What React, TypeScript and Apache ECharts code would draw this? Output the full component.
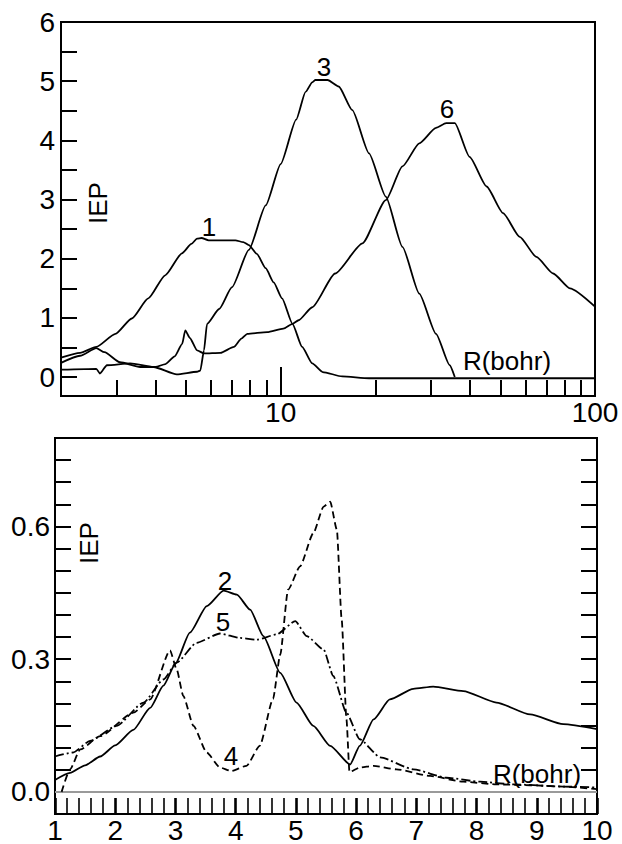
import React, { useEffect, useRef } from "react";
import * as echarts from "echarts";

// ---------- Top panel (log R axis) ----------
const c1X = [2.0, 2.3, 2.59, 2.98, 3.36, 3.79, 4.29, 4.85, 5.2, 5.42, 5.6, 5.9, 6.5, 7.18, 7.6, 7.92, 8.4, 8.96, 9.5, 10.1, 10.9, 11.7, 12.6, 13.6, 15.7, 19.1, 30, 50, 100];
const c1Y = [0.33, 0.41, 0.51, 0.73, 0.99, 1.33, 1.72, 2.09, 2.25, 2.34, 2.35, 2.31, 2.31, 2.31, 2.28, 2.23, 2.08, 1.84, 1.6, 1.33, 0.9, 0.51, 0.23, 0.085, 0.01, -0.02, -0.02, -0.02, -0.02];

const c3X = [2.0, 2.59, 2.66, 2.8, 3.32, 3.94, 4.67, 5.42, 5.55, 5.7, 5.83, 6.37, 7.0, 7.92, 8.96, 10.0, 11.2, 12.0, 12.6, 12.9, 14.1, 15.3, 16.9, 19.1, 21.6, 24.4, 27.6, 31.2, 34.5, 35.8];
const c3Y = [0.125, 0.14, 0.06, 0.2, 0.23, 0.17, 0.045, 0.09, 0.11, 0.45, 0.9, 1.15, 1.52, 2.15, 2.9, 3.6, 4.35, 4.82, 4.98, 5.02, 5.02, 4.91, 4.51, 3.78, 3.05, 2.2, 1.41, 0.73, 0.2, 0.0];

const c6X = [2.0, 2.3, 2.59, 2.75, 3.08, 3.57, 4.0, 4.3, 4.6, 4.86, 4.97, 5.14, 5.42, 5.7, 6.43, 7.1, 7.5, 7.83, 9.06, 10.2, 10.9, 11.4, 12.6, 14.9, 18.2, 21.6, 24.4, 27.6, 31.2, 33.6, 35.8, 39.9, 45.2, 51.0, 57.6, 65.1, 73.6, 83.2, 100];
const c6Y = [0.24, 0.36, 0.49, 0.42, 0.25, 0.17, 0.17, 0.22, 0.35, 0.56, 0.79, 0.66, 0.45, 0.4, 0.41, 0.51, 0.65, 0.73, 0.76, 0.82, 0.9, 0.96, 1.18, 1.75, 2.26, 2.99, 3.56, 3.95, 4.21, 4.29, 4.29, 3.72, 3.22, 2.77, 2.37, 2.03, 1.75, 1.5, 1.19];

const topYTicks = [0, 0.5, 1, 1.5, 2, 2.5, 3, 3.5, 4, 4.5, 5, 5.5, 6];
const topYLabels = [0, 1, 2, 3, 4, 5, 6];
const topXMinorTicks = [3, 4, 5, 6, 7, 8, 9, 20, 30, 40, 50, 60, 70, 80, 90];
const topXMajorTicks = [10];
const topXLabels = [10, 100];

// ---------- Bottom panel (linear R axis) ----------
const c2X = [1.0, 1.25, 1.5, 1.75, 2.0, 2.3, 2.58, 2.8, 3.0, 3.24, 3.52, 3.8, 4.02, 4.24, 4.46, 4.74, 5.01, 5.29, 5.57, 5.9, 6.06, 6.29, 6.56, 6.95, 7.28, 7.78, 8.33, 8.89, 9.44, 10.0];
const c2Y = [0.027, 0.043, 0.06, 0.08, 0.105, 0.14, 0.19, 0.24, 0.29, 0.36, 0.42, 0.455, 0.446, 0.412, 0.352, 0.269, 0.202, 0.149, 0.104, 0.062, 0.104, 0.164, 0.209, 0.233, 0.238, 0.228, 0.202, 0.175, 0.153, 0.142];

const c4X = [1.11, 1.25, 1.42, 1.75, 2.3, 2.58, 2.91, 3.02, 3.13, 3.3, 3.52, 3.74, 3.93, 4.18, 4.4, 4.62, 4.74, 4.87, 5.07, 5.29, 5.46, 5.57, 5.68, 5.76, 5.84, 5.89, 6.06, 6.29, 6.67, 7.23, 7.78, 8.33, 8.89, 9.44, 10.0];
const c4Y = [0.0, 0.051, 0.096, 0.126, 0.179, 0.209, 0.32, 0.277, 0.217, 0.149, 0.089, 0.055, 0.047, 0.059, 0.104, 0.21, 0.31, 0.457, 0.51, 0.585, 0.645, 0.656, 0.593, 0.39, 0.164, 0.045, 0.055, 0.059, 0.051, 0.036, 0.023, 0.017, 0.015, 0.012, 0.006];

const c5X = [1.0, 1.3, 1.58, 2.02, 2.47, 2.8, 3.02, 3.35, 3.74, 4.07, 4.35, 4.68, 4.99, 5.18, 5.46, 5.62, 5.84, 6.06, 6.4, 6.95, 7.5, 8.06, 8.61, 9.44, 10.0];
const c5Y = [0.08, 0.089, 0.115, 0.149, 0.202, 0.254, 0.292, 0.337, 0.358, 0.348, 0.344, 0.356, 0.386, 0.352, 0.322, 0.262, 0.179, 0.119, 0.078, 0.051, 0.032, 0.023, 0.017, 0.012, 0.01];

const botYTicks = [0, 0.05, 0.1, 0.15, 0.2, 0.25, 0.3, 0.35, 0.4, 0.45, 0.5, 0.55, 0.6, 0.65, 0.7, 0.75];
const botYLabels = [0, 0.3, 0.6];

const FONT = "'Liberation Sans', Arial, Helvetica, sans-serif";
const BLACK = "#000";

const zip = (xs: number[], ys: number[]) => xs.map((x, i) => [x, ys[i]]);

const lineSeries = (
  name: string,
  xs: number[],
  ys: number[],
  xi: number,
  yi: number,
  type: any = "solid",
  extra: any = {}
) => ({
  name,
  type: "line",
  xAxisIndex: xi,
  yAxisIndex: yi,
  data: zip(xs, ys),
  showSymbol: false,
  symbol: "none",
  smooth: 0.2,
  smoothMonotone: "x",
  lineStyle: { color: BLACK, width: 1.8, type },
  z: 3,
  ...extra,
});

const tickStyle = { color: BLACK, width: 2 };
const labelStyle = { color: BLACK, fontSize: 28, fontFamily: FONT, lineHeight: 28 };

const text = (t: string, x: number, y: number, size = 26, rotation = 0) => ({
  type: "text",
  x,
  y,
  rotation,
  z: 10,
  style: {
    text: t,
    fill: BLACK,
    fontSize: size,
    fontFamily: FONT,
    align: "center",
    verticalAlign: "middle",
  },
});

export default function App() {
  const ref = useRef<HTMLDivElement>(null);

  useEffect(() => {
    if (!ref.current) return;
    const chart = echarts.init(ref.current, undefined, { renderer: "svg" });
    const option: any = {
      animation: false,
      backgroundColor: "#fff",
      grid: [
        { left: 61, top: 22, width: 534, height: 374, show: true, borderColor: BLACK, borderWidth: 2, backgroundColor: "transparent" },
        { left: 55, top: 438, width: 542, height: 378, show: true, borderColor: BLACK, borderWidth: 2, backgroundColor: "transparent" },
      ],
      xAxis: [
        {
          gridIndex: 0,
          type: "log",
          logBase: 10,
          min: 2,
          max: 100,
          position: "bottom",
          axisLine: { onZero: false, lineStyle: { color: BLACK, width: 2 } },
          axisTick: { inside: true, length: 16, lineStyle: tickStyle, customValues: topXMinorTicks },
          axisLabel: { ...labelStyle, margin: 2, customValues: topXLabels, hideOverlap: false },
          splitLine: { show: false },
          minorTick: { show: false },
          minorSplitLine: { show: false },
        },
        {
          gridIndex: 0,
          type: "log",
          logBase: 10,
          min: 2,
          max: 100,
          position: "bottom",
          offset: 0,
          axisLine: { show: false, onZero: false },
          axisTick: { inside: true, length: 29, lineStyle: tickStyle, customValues: topXMajorTicks },
          axisLabel: { show: false },
          splitLine: { show: false },
        },
        {
          gridIndex: 1,
          type: "value",
          min: 1,
          max: 10,
          interval: 1,
          position: "bottom",
          axisLine: { onZero: false, lineStyle: { color: BLACK, width: 2 } },
          axisTick: { inside: true, length: 16, lineStyle: { color: BLACK, width: 2.6 } },
          minorTick: { show: true, splitNumber: 5, length: 16, lineStyle: { color: BLACK, width: 1.6 } },
          axisLabel: { ...labelStyle, margin: 2 },
          splitLine: { show: false },
        },
      ],
      yAxis: [
        {
          gridIndex: 0,
          type: "value",
          min: -0.32,
          max: 6,
          axisLine: { onZero: false, lineStyle: { color: BLACK, width: 2 } },
          axisTick: { inside: true, length: 16, lineStyle: tickStyle, customValues: topYTicks },
          axisLabel: { ...labelStyle, margin: 6, customValues: topYLabels },
          splitLine: { show: false },
        },
        {
          gridIndex: 1,
          type: "value",
          min: -0.05,
          max: 0.8,
          axisLine: { onZero: false, lineStyle: { color: BLACK, width: 2 } },
          axisTick: { inside: true, length: 16, lineStyle: tickStyle, customValues: botYTicks },
          axisLabel: {
            ...labelStyle,
            margin: 5,
            customValues: botYLabels,
            formatter: (v: number) => v.toFixed(1),
          },
          splitLine: { show: false },
        },
        {
          gridIndex: 1,
          type: "value",
          position: "right",
          min: -0.05,
          max: 0.8,
          axisLine: { onZero: false, lineStyle: { color: BLACK, width: 2 } },
          axisTick: { inside: true, length: 16, lineStyle: tickStyle, customValues: botYTicks },
          axisLabel: { show: false },
          splitLine: { show: false },
        },
      ],
      series: [
        lineSeries("1", c1X, c1Y, 0, 0),
        lineSeries("3", c3X, c3Y, 0, 0),
        lineSeries("6", c6X, c6Y, 0, 0),
        lineSeries("2", c2X, c2Y, 2, 1, "solid", {
          markLine: {
            silent: true,
            symbol: ["none", "none"],
            label: { show: false },
            lineStyle: { color: "#9a9a9a", width: 2, type: "solid" },
            data: [{ yAxis: 0 }],
            z: 1,
          },
        }),
        lineSeries("4", c4X, c4Y, 2, 1, [7, 4]),
        lineSeries("5", c5X, c5Y, 2, 1, [9, 3, 2, 3]),
      ],
      graphic: [
        text("IEP", 98, 203, 26, Math.PI / 2),
        text("R(bohr)", 507, 361, 26),
        text("1", 209, 227, 26),
        text("3", 324, 67, 26),
        text("6", 447, 109, 26),
        text("IEP", 89, 543, 26, Math.PI / 2),
        text("R(bohr)", 537, 774, 26),
        text("2", 225, 581, 26),
        text("5", 223, 622, 26),
        text("4", 231, 756, 26),
      ],
    };
    chart.setOption(option);
    return () => chart.dispose();
  }, []);

  return (
    <div
      ref={ref}
      style={{ position: "absolute", left: 0, top: 0, width: 622, height: 844, background: "#fff" }}
    />
  );
}
